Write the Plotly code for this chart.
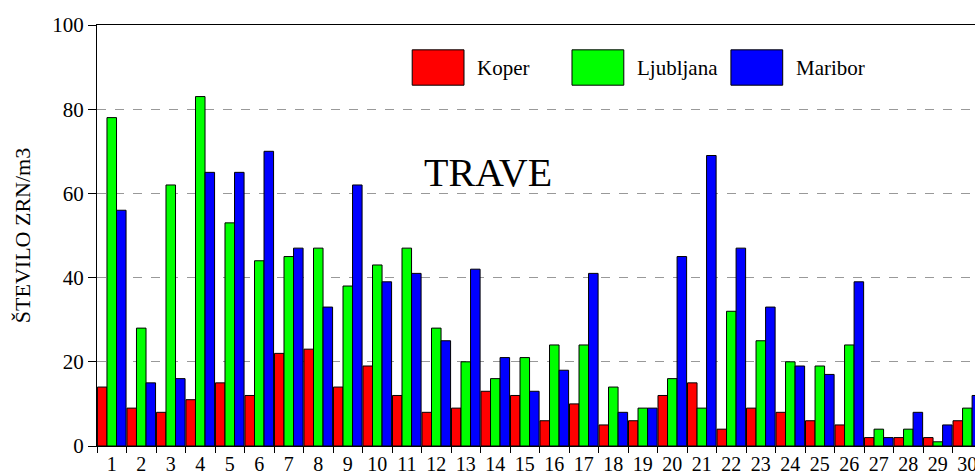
import plotly.graph_objects as go

# dnevi v mesecu
dnevi = [str(i) for i in range(1, 31)]

koper = [14, 9, 8, 11, 15, 12, 22, 23, 14, 19,
         12, 8, 9, 13, 12, 6, 10, 5, 6, 12,
         15, 4, 9, 8, 6, 5, 2, 2, 2, 6]
ljubljana = [78, 28, 62, 83, 53, 44, 45, 47, 38, 43,
             47, 28, 20, 16, 21, 24, 24, 14, 9, 16,
             9, 32, 25, 20, 19, 24, 4, 4, 1, 9]
maribor = [56, 15, 16, 65, 65, 70, 47, 33, 62, 39,
           41, 25, 42, 21, 13, 18, 41, 8, 9, 45,
           69, 47, 33, 19, 17, 39, 2, 8, 5, 12]

imena = ["Koper", "Ljubljana", "Maribor"]
barve = ["#ff0000", "#00ff00", "#0000ff"]

FONT = "Liberation Serif, Times New Roman, serif"

fig = go.Figure()
for ime, vals, c in zip(imena, [koper, ljubljana, maribor], barve):
    fig.add_trace(go.Bar(
        x=dnevi, y=vals, name=ime,
        marker={"color": c, "line": {"color": "black", "width": 1}},
        showlegend=False,
    ))

# legenda z velikimi kvadratki (kot v originalu)
leg_x = [0.359, 0.541, 0.722]
sw_w = 0.059
for ime, c, lx in zip(imena, barve, leg_x):
    fig.add_shape(type="rect", xref="paper", yref="paper",
                  x0=lx, x1=lx + sw_w, y0=0.857, y1=0.941,
                  fillcolor=c, line={"color": "black", "width": 1})
    fig.add_annotation(xref="paper", yref="paper", x=lx + sw_w + 0.013, y=0.899,
                       text=ime, showarrow=False, xanchor="left", yanchor="middle",
                       font={"family": FONT, "size": 21, "color": "black"})

fig.add_annotation(xref="paper", yref="paper", x=0.445, y=0.708, text="TRAVE",
                   showarrow=False, font={"family": FONT, "size": 40, "color": "black"})

fig.update_layout(
    width=975, height=475,
    margin={"l": 97, "r": 0, "t": 25, "b": 29},
    barmode="group", bargap=0.03, bargroupgap=0,
    paper_bgcolor="white", plot_bgcolor="white",
    font={"family": FONT, "size": 20, "color": "black"},
    xaxis={"type": "category", "range": [-0.5, 29.26],
           "showline": True, "linecolor": "black", "linewidth": 1, "mirror": True,
           "ticks": "outside", "tickson": "boundaries", "ticklen": 6, "tickcolor": "black",
           "showgrid": False, "tickfont": {"size": 20}, "tickangle": 0,
           "automargin": False},
    yaxis={"range": [0, 100], "dtick": 20,
           "showline": True, "linecolor": "black", "linewidth": 1,
           "ticks": "outside", "ticklen": 8, "tickcolor": "black",
           "showgrid": True, "gridcolor": "#999999", "griddash": "dash", "gridwidth": 1,
           "zeroline": False, "tickfont": {"size": 21}, "automargin": False,
           "title": {"text": "ŠTEVILO ZRN/m3", "font": {"size": 22}, "standoff": 15}},
)

fig.write_html("out.html", config={"displayModeBar": False},
               post_script="document.body.style.margin='0';")
